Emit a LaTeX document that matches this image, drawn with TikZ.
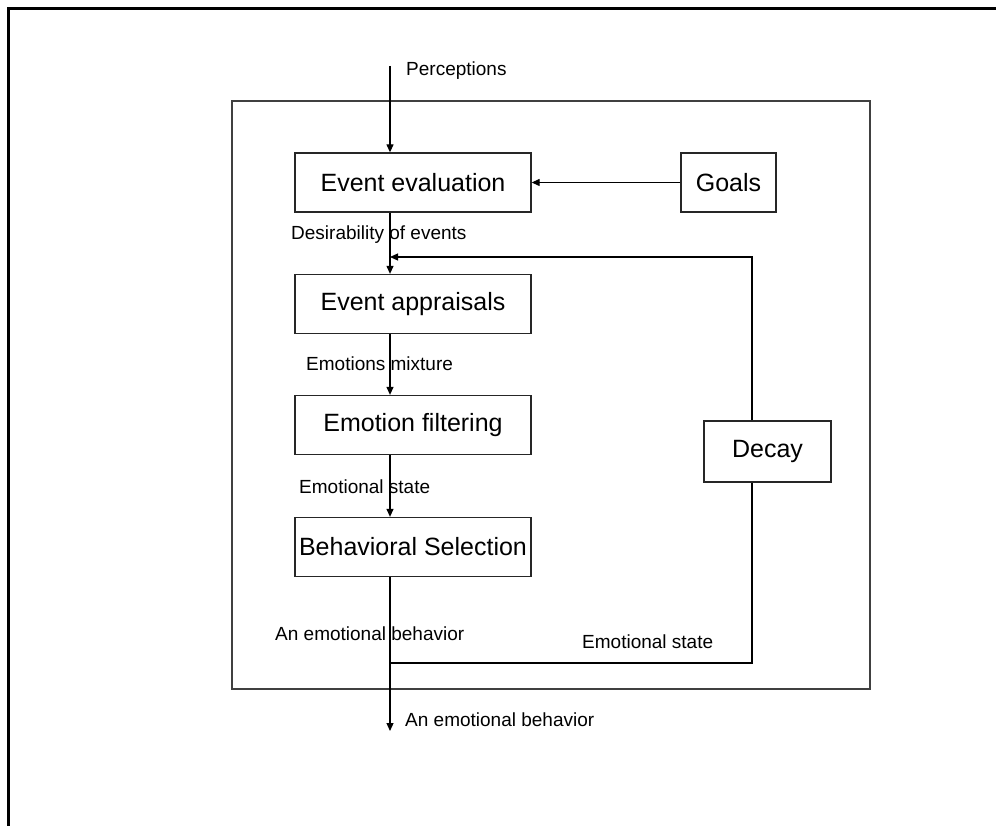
\documentclass[tikz,border=0pt]{standalone}
\usepackage{fontspec}
\setmainfont{Liberation Sans}
\usetikzlibrary{arrows.meta}
\begin{document}
\begin{tikzpicture}[x=1pt,y=-1pt,
 box/.style={draw=black!85,line width=1.3pt,minimum width=236pt,minimum height=59pt,inner sep=0pt,font=\fontsize{25}{28}\selectfont},
 lbl/.style={anchor=west,inner sep=0pt,font=\fontsize{19}{22}\selectfont},
 conn/.style={line width=1.2pt,-{Triangle[length=8pt,width=7pt]}},
 wire/.style={line width=1.2pt}]
\useasboundingbox (0,0) rectangle (996,826);
% outer frame (only top and left edges visible)
\draw[line width=3pt] (8,826) -- (8,9) -- (996,9);
% inner frame
\draw[line width=1.5pt, black!75] (232,101) rectangle (870,689);
% boxes
\node[box] (ee) at (413,182.5) {Event evaluation};
\node[box] (ea) at (413,304) {Event appraisals};
\node[box] (ef) at (413,425) {Emotion filtering};
\node[box] (bs) at (413,547) {Behavioral Selection};
\node[box,minimum width=95pt] (goals) at (728.5,182.5) {Goals};
\node[box,minimum width=127pt,minimum height=61pt] (decay) at (767.5,451.5) {Decay};
% coordinates
\coordinate (pin) at (390,66);
\coordinate (fb) at (752,257);
\coordinate (fbb) at (752,663);
\coordinate (out) at (390,731);
% connectors
\draw[conn] (pin) -- (pin |- ee.north);
\draw[conn] (goals.west) -- (ee.east |- goals.west);
\draw[conn] (pin |- ee.south) -- (pin |- ea.north);
\draw[conn] (fb |- decay.north) -- (fb) -- (pin |- fb);
\draw[conn] (pin |- ea.south) -- (pin |- ef.north);
\draw[conn] (pin |- ef.south) -- (pin |- bs.north);
\draw[conn] (pin |- bs.south) -- (out);
\draw[wire] (fb |- decay.south) -- (fbb) -- (pin |- fbb);
% labels
\node[lbl] (lp) at (406,71) {Perceptions};
\node[lbl] (ld) at (291,235) {Desirability of events};
\node[lbl] (lm) at (306,364) {Emotions mixture};
\node[lbl] (ls) at (299,487) {Emotional state};
\node[lbl] (lb) at (275,634) {An emotional behavior};
\node[lbl] (ls2) at (582,642) {Emotional state};
\node[lbl] (lo) at (405,720) {An emotional behavior};
\end{tikzpicture}
\end{document}
